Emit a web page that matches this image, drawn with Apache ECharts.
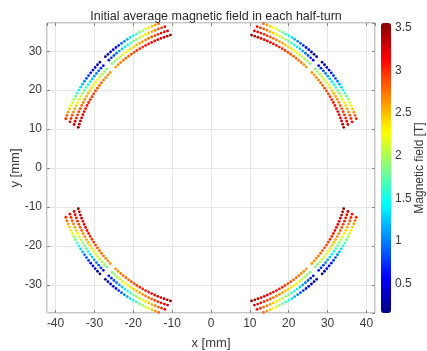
<!DOCTYPE html>
<html><head><meta charset="utf-8">
<script src="https://cdn.jsdelivr.net/npm/echarts@6/dist/echarts.min.js"></script>
<style>html,body{margin:0;padding:0;background:#fff}#c{width:427px;height:351px}</style>
</head><body><div id="c"></div>
<script>
// Geometry of one half-coil (4 layers, inner -> outer), angles measured from the coil centre line
const layerRadius = [35.7, 36.95, 38.2, 39.45];      // mm
const startOffsetDeg = [1.6, 1.55, 1.5, 1.45];       // first half-turn next to the wedge gap
const endOffsetDeg = [28.0, 27.4, 26.9, 26.3];       // last half-turn at the coil edge
const turnsPerLayer = 20;
const coilCentreDeg = [45, 135, 225, 315];
const halfSides = [-1, 1];

// Average field per half-turn [T], from the gap (index 0) to the coil edge
const fieldLayer1 = [2.62,2.66,2.70,2.74,2.78,2.82,2.86,2.90,2.94,2.98,3.02,3.06,3.10,3.14,3.18,3.22,3.27,3.33,3.41,3.52];
const fieldLayer2 = [1.85,1.93,2.00,2.08,2.16,2.23,2.30,2.37,2.44,2.51,2.58,2.65,2.72,2.79,2.86,2.93,3.00,3.08,3.17,3.28];
const fieldLayer3 = [0.62,0.72,0.84,0.97,1.10,1.24,1.38,1.52,1.66,1.80,1.93,2.06,2.19,2.32,2.45,2.58,2.71,2.84,2.98,3.14];
const fieldLayer4 = [0.18,0.27,0.37,0.48,0.60,0.73,0.87,1.02,1.17,1.33,1.49,1.65,1.81,1.97,2.13,2.29,2.45,2.62,2.80,3.00];
const fieldLayers = [fieldLayer1, fieldLayer2, fieldLayer3, fieldLayer4];

const xRange = [-42.2, 42.2];
const yRange = [-37.25, 37.25];
const cbRange = [0.15, 3.56];
const jet = ['#000080','#0000ff','#0080ff','#00ffff','#80ff80','#ffff00','#ff8000','#ff0000','#800000'];

const pts = [];
coilCentreDeg.forEach(c => {
  halfSides.forEach(s => {
    for (let L = 0; L < layerRadius.length; L++) {
      for (let i = 0; i < turnsPerLayer; i++) {
        const off = startOffsetDeg[L] + (endOffsetDeg[L] - startOffsetDeg[L]) * i / (turnsPerLayer - 1);
        const a = (c + s * off) * Math.PI / 180;
        pts.push([layerRadius[L] * Math.cos(a), layerRadius[L] * Math.sin(a), fieldLayers[L][i]]);
      }
    }
  });
});

const FONT = 'Liberation Sans';
const axisCol = '#8a8a8a';
const txt = '#3a3a3a';
const tickCommon = {show: true, inside: true, length: 3, lineStyle: {color: axisCol}};
const noLine = {show: false, onZero: false};
const chart = echarts.init(document.getElementById('c'), null, {renderer: 'canvas'});
chart.setOption({
  animation: false,
  backgroundColor: '#fff',
  textStyle: {fontFamily: FONT},
  title: {text: 'Initial average magnetic field in each half-turn', left: 211, top: 5, textAlign: 'center',
    textStyle: {fontSize: 12.5, fontWeight: 'normal', color: '#2a2a2a', fontFamily: FONT}},
  grid: [
    {left: 47, top: 23, width: 328, height: 290, show: true, borderColor: axisCol, borderWidth: 1, backgroundColor: '#fff',
      containLabel: false, outerBoundsMode: 'none'},
    {left: 381, top: 23, width: 10, height: 290, containLabel: false, outerBoundsMode: 'none'}
  ],
  xAxis: [
    {gridIndex: 0, type: 'value', min: xRange[0], max: xRange[1], splitNumber: 8, position: 'bottom',
      name: 'x [mm]', nameLocation: 'middle', nameGap: 24, nameTextStyle: {fontSize: 13, color: txt, fontFamily: FONT},
      axisLine: noLine, axisTick: tickCommon,
      axisLabel: {showMinLabel: false, showMaxLabel: false, fontSize: 12, color: txt, margin: 5, fontFamily: FONT},
      splitLine: {show: true, lineStyle: {color: '#e6e6e6'}}},
    {gridIndex: 0, type: 'value', min: xRange[0], max: xRange[1], splitNumber: 8, position: 'top',
      axisLine: noLine, axisTick: tickCommon, axisLabel: {show: false}, splitLine: {show: false}},
    {gridIndex: 1, type: 'value', show: false, min: 0, max: 1}
  ],
  yAxis: [
    {gridIndex: 0, type: 'value', min: yRange[0], max: yRange[1], splitNumber: 7, position: 'left',
      name: 'y [mm]', nameLocation: 'middle', nameGap: 25, nameRotate: 90, nameMoveOverlap: false,
      nameTextStyle: {fontSize: 13, color: txt, fontFamily: FONT},
      axisLine: noLine, axisTick: tickCommon,
      axisLabel: {showMinLabel: false, showMaxLabel: false, fontSize: 12, color: txt, margin: 5, fontFamily: FONT},
      splitLine: {show: true, lineStyle: {color: '#e6e6e6'}}},
    {gridIndex: 0, type: 'value', min: yRange[0], max: yRange[1], splitNumber: 7, position: 'right',
      axisLine: noLine, axisTick: tickCommon, axisLabel: {show: false}, splitLine: {show: false}},
    {gridIndex: 1, type: 'value', min: cbRange[0], max: cbRange[1], splitNumber: 7, position: 'right',
      name: 'Magnetic field [T]', nameLocation: 'middle', nameGap: 22.5, nameRotate: 90, nameMoveOverlap: false,
      nameTextStyle: {fontSize: 12, color: txt, fontFamily: FONT},
      axisLine: noLine, axisTick: {show: false},
      axisLabel: {showMinLabel: false, showMaxLabel: false, fontSize: 12, color: txt, margin: 4, fontFamily: FONT},
      splitLine: {show: false}}
  ],
  visualMap: {
    type: 'continuous', min: cbRange[0], max: cbRange[1], dimension: 2, seriesIndex: 0,
    calculable: false, realtime: false, hoverLink: false,
    left: 381, top: 23, itemWidth: 10, itemHeight: 290, padding: 0, text: null, showLabel: false,
    inRange: {color: jet}
  },
  series: [{
    type: 'scatter', xAxisIndex: 0, yAxisIndex: 0, data: pts, symbolSize: 2.8,
    itemStyle: {opacity: 1}, silent: true
  }]
});
</script></body></html>
